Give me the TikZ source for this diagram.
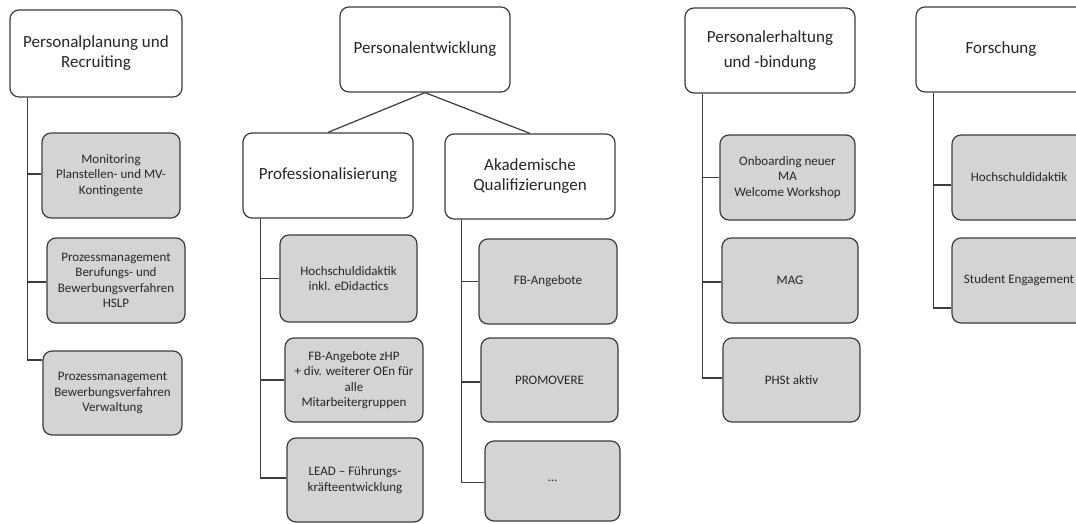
\documentclass[tikz,border=0pt]{standalone}
\usepackage{fontspec}
\setmainfont{Carlito}
\definecolor{bordc}{HTML}{3C3C3C}
\definecolor{fillc}{HTML}{D4D4D4}
\definecolor{txtc}{HTML}{262626}
\begin{document}
\begin{tikzpicture}[x=1pt,y=-1pt,
 box/.style={draw=bordc, line width=1.2pt, rounded corners=9pt, align=center, inner sep=2pt, text=txtc},
 headbox/.style={box, fill=white, font=\fontsize{17}{20}\selectfont},
 childbox/.style={box, fill=fillc, font=\fontsize{13}{15.5}\selectfont},
 conn/.style={draw=bordc, line width=1.2pt}]
\useasboundingbox (0,0) rectangle (1076,523);
\clip (0,0) rectangle (1076,523);
% headings
\node[headbox, minimum width=172pt, minimum height=87pt] (h1) at (96,53.5) {Personalplanung und\\Recruiting};
\node[headbox, minimum width=170pt, minimum height=85pt] (h2) at (425,49.5) {Personalentwicklung};
\node[headbox, minimum width=170pt, minimum height=85pt] (h2a) at (328,175.5) {Professionalisierung};
\node[headbox, minimum width=170pt, minimum height=85pt] (h2b) at (530,176.5) {Akademische\\Qualifizierungen};
\node[headbox, minimum width=170pt, minimum height=85pt, font=\fontsize{17}{25}\selectfont] (h3) at (770,50.5) {Personalerhaltung\\und -bindung};
\node[headbox, minimum width=170pt, minimum height=85pt] (h4) at (1001,49.5) {Forschung};
% children column 1
\node[childbox, minimum width=138pt, minimum height=85pt] (c11) at (111,175.5) {Monitoring\\Planstellen- und MV-\\Kontingente};
\node[childbox, minimum width=138pt, minimum height=85pt] (c12) at (116,280.5) {Prozessmanagement\\Berufungs- und\\Bewerbungsverfahren\\HSLP};
\node[childbox, minimum width=139pt, minimum height=84pt] (c13) at (112.5,393) {Prozessmanagement\\Bewerbungsverfahren\\Verwaltung};
% children Professionalisierung
\node[childbox, minimum width=137pt, minimum height=87pt] (c21) at (348.5,278.5) {Hochschuldidaktik\\inkl. eDidactics};
\node[childbox, minimum width=138pt, minimum height=84pt] (c22) at (354,380) {FB-Angebote zHP\\+ div. weiterer OEn für\\alle\\Mitarbeitergruppen};
\node[childbox, minimum width=136pt, minimum height=84pt] (c23) at (355,480) {LEAD – Führungs-\\kräfteentwicklung};
% children Akademische
\node[childbox, minimum width=138pt, minimum height=85pt] (c31) at (548,281.5) {FB-Angebote};
\node[childbox, minimum width=137pt, minimum height=84pt] (c32) at (549.5,380) {PROMOVERE};
\node[childbox, minimum width=135pt, minimum height=80pt] (c33) at (552.5,481) {…};
% children Personalerhaltung
\node[childbox, minimum width=135pt, minimum height=85pt] (c41) at (787.5,177.5) {Onboarding neuer\\MA\\Welcome Workshop};
\node[childbox, minimum width=136pt, minimum height=85pt] (c42) at (790,280.5) {MAG};
\node[childbox, minimum width=137pt, minimum height=84pt] (c43) at (791.5,380) {PHSt aktiv};
% children Forschung
\node[childbox, minimum width=134pt, minimum height=85pt] (c51) at (1019,177.5) {Hochschuldidaktik};
\node[childbox, minimum width=134pt, minimum height=85pt] (c52) at (1019,280.5) {Student Engagement};
% connectors
\draw[conn] (h2.south) -- (h2a.north);
\draw[conn] (h2.south) -- (h2b.north);
\draw[conn] ([xshift=18pt]h1.south west) |- ([yshift=1.5pt]c11.west);
\draw[conn] ([xshift=18pt]h1.south west) |- ([yshift=-1.5pt]c12.west);
\draw[conn] ([xshift=18pt]h1.south west) |- ([yshift=33pt]c13.west);
\draw[conn] ([xshift=18pt]h2a.south west) |- (c21.west);
\draw[conn] ([xshift=18pt]h2a.south west) |- (c22.west);
\draw[conn] ([xshift=18pt]h2a.south west) |- ([yshift=2pt]c23.west);
\draw[conn] ([xshift=17pt]h2b.south west) |- (c31.west);
\draw[conn] ([xshift=17pt]h2b.south west) |- ([yshift=-2pt]c32.west);
\draw[conn] ([xshift=17pt]h2b.south west) |- ([yshift=-1.5pt]c33.west);
\draw[conn] ([xshift=18pt]h3.south west) |- (c41.west);
\draw[conn] ([xshift=18pt]h3.south west) |- ([yshift=-1.5pt]c42.west);
\draw[conn] ([xshift=18pt]h3.south west) |- ([yshift=2pt]c43.west);
\draw[conn] ([xshift=18pt]h4.south west) |- ([yshift=-7.5pt]c51.west);
\draw[conn] ([xshift=18pt]h4.south west) |- ([yshift=-27.5pt]c52.west);
\end{tikzpicture}
\end{document}
